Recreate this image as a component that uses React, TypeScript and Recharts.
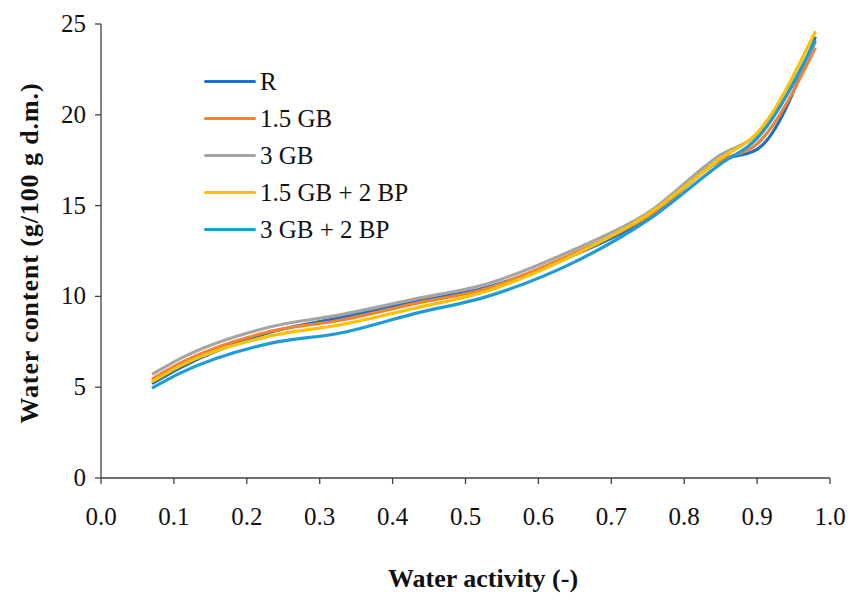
import { LineChart, Line, XAxis, YAxis } from "recharts";

// the chart fills the whole window, so the body's default margin goes
document.body.style.margin = "0";

const waterActivity = [0.07, 0.11, 0.23, 0.33, 0.43, 0.53, 0.65, 0.75, 0.85, 0.9, 0.98];

const rValues = [5.2, 6.1, 8.0, 8.85, 9.7, 10.5, 12.3, 14.3, 17.5, 18.1, 24.3];
const gb15Values = [5.45, 6.35, 8.05, 8.7, 9.6, 10.45, 12.4, 14.4, 17.5, 18.4, 23.7];
const gb3Values = [5.7, 6.6, 8.3, 9.0, 9.85, 10.7, 12.6, 14.6, 17.8, 18.9, 24.0];
const gb15bpValues = [5.3, 6.2, 7.8, 8.45, 9.35, 10.3, 12.3, 14.5, 17.6, 19.0, 24.6];
const gb3bpValues = [4.95, 5.8, 7.4, 8.0, 9.05, 10.0, 11.9, 14.2, 17.3, 18.7, 24.1];

const xTicks = [0, 0.1, 0.2, 0.3, 0.4, 0.5, 0.6, 0.7, 0.8, 0.9, 1.0];
const yTicks = [0, 5, 10, 15, 20, 25];

const series = [
  { key: "r", name: "R", color: "#1F6FC6" },
  { key: "gb15", name: "1.5 GB", color: "#F5822E" },
  { key: "gb3", name: "3 GB", color: "#A5A5A5" },
  { key: "gb15bp", name: "1.5 GB + 2 BP", color: "#FFC000" },
  { key: "gb3bp", name: "3 GB + 2 BP", color: "#1E9BD8" },
];

const data = waterActivity.map((aw, i) => ({
  aw,
  r: rValues[i],
  gb15: gb15Values[i],
  gb3: gb3Values[i],
  gb15bp: gb15bpValues[i],
  gb3bp: gb3bpValues[i],
}));

const FONT = "Liberation Serif, Times New Roman, serif";
const AXIS = "#404040";

const XTick = ({ x, y, payload }: any) => (
  <text x={x} y={y + 22} dy={17} textAnchor="middle" fontFamily={FONT} fontSize={25} fill="#111">
    {Number(payload.value).toFixed(1)}
  </text>
);

const YTick = ({ x, y, payload }: any) => (
  <text x={x - 7} y={y} dy={8} textAnchor="end" fontFamily={FONT} fontSize={25} fill="#111">
    {payload.value}
  </text>
);

export default function App() {
  return (
    <div style={{ position: "relative", width: 848, height: 599, background: "#fff", fontFamily: FONT }}>
      <LineChart width={848} height={599} data={data} margin={{ top: 24, right: 18, bottom: 0, left: 0 }}>
        <XAxis
          dataKey="aw"
          type="number"
          domain={[0, 1]}
          ticks={xTicks}
          height={121}
          tickSize={6}
          stroke={AXIS}
          strokeWidth={1.3}
          tick={<XTick />}
        />
        <YAxis
          type="number"
          domain={[0, 25]}
          ticks={yTicks}
          width={101}
          tickSize={6}
          stroke={AXIS}
          strokeWidth={1.3}
          tick={<YTick />}
        />
        {series.map((s) => (
          <Line
            key={s.key}
            type="monotone"
            dataKey={s.key}
            name={s.name}
            stroke={s.color}
            strokeWidth={3.2}
            dot={false}
            isAnimationActive={false}
          />
        ))}
      </LineChart>

      {/* legend, upper left inside the plot */}
      <div style={{ position: "absolute", left: 204, top: 63, fontSize: 25, color: "#111" }}>
        {series.map((s) => (
          <div key={s.key} style={{ display: "flex", alignItems: "center", height: 37 }}>
            <span style={{ width: 52, height: 3, background: s.color, borderRadius: 2, marginRight: 4 }} />
            <span>{s.name}</span>
          </div>
        ))}
      </div>

      <div
        style={{
          position: "absolute",
          left: 483,
          top: 579,
          transform: "translate(-50%, -50%)",
          fontWeight: "bold",
          fontSize: 26,
          lineHeight: "26px",
          whiteSpace: "nowrap",
          color: "#111",
        }}
      >
        Water activity (-)
      </div>
      <div
        style={{
          position: "absolute",
          left: 30,
          top: 253,
          transform: "translate(-50%, -50%) rotate(-90deg)",
          fontWeight: "bold",
          fontSize: 26,
          lineHeight: "26px",
          letterSpacing: 0.9,
          whiteSpace: "nowrap",
          color: "#111",
        }}
      >
        Water content (g/100 g d.m.)
      </div>
    </div>
  );
}
